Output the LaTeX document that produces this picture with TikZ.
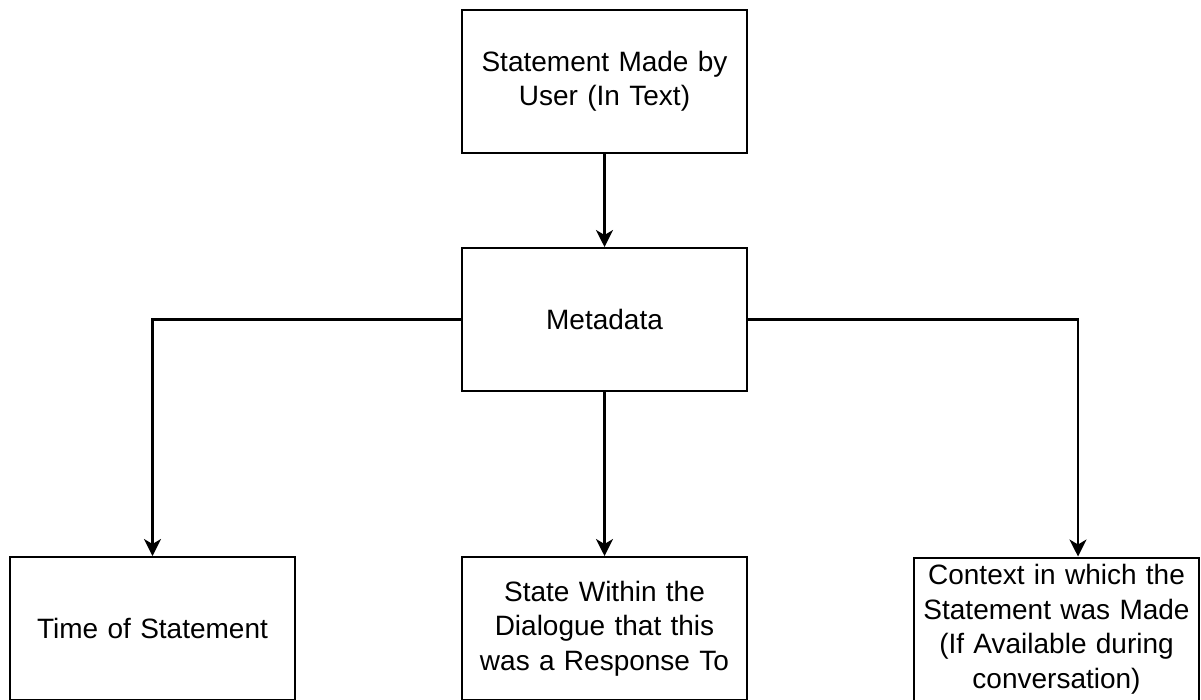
\documentclass[tikz,border=0pt]{standalone}
\usepackage{fontspec}
\setmainfont{Liberation Sans}
\usetikzlibrary{arrows.meta,calc}
\begin{document}
\begin{tikzpicture}[x=1pt,y=-1pt,
  box/.style={draw=black,line width=2pt,fill=white,minimum width=285pt,minimum height=143pt,
    text width=275pt,align=center,inner sep=0pt,
    font=\fontsize{28}{34.5}\selectfont},
  link/.style={draw=black,line width=2.2pt,-{Stealth[length=17pt,width=17pt,inset=5pt]}}]
  \clip (0,0) rectangle (1201,699);
  \fill[white] (0,0) rectangle (1201,699);
  % boxes
  \node[box] (stmt) at (604.5,81.5) {Statement Made by\\User (In Text)};
  \node[box] (meta) at (604.5,319.5) {Metadata};
  \node[box] (time) at (152.5,628.5) {Time of Statement};
  \node[box] (state) at (604.5,628.5) {State Within the\\Dialogue that this\\was a Response To};
  \node[box] (ctx) at (1056.5,629) {Context in which the\\Statement was Made\\(If Available during\\conversation)};
  % connectors
  \draw[link] (stmt.south) -- (meta.north);
  \draw[link] (meta.west) -| (time.north);
  \draw[link] (meta.south) -- (state.north);
  \draw[link] (meta.east) -| ([xshift=21.5pt]ctx.north);
\end{tikzpicture}
\end{document}
